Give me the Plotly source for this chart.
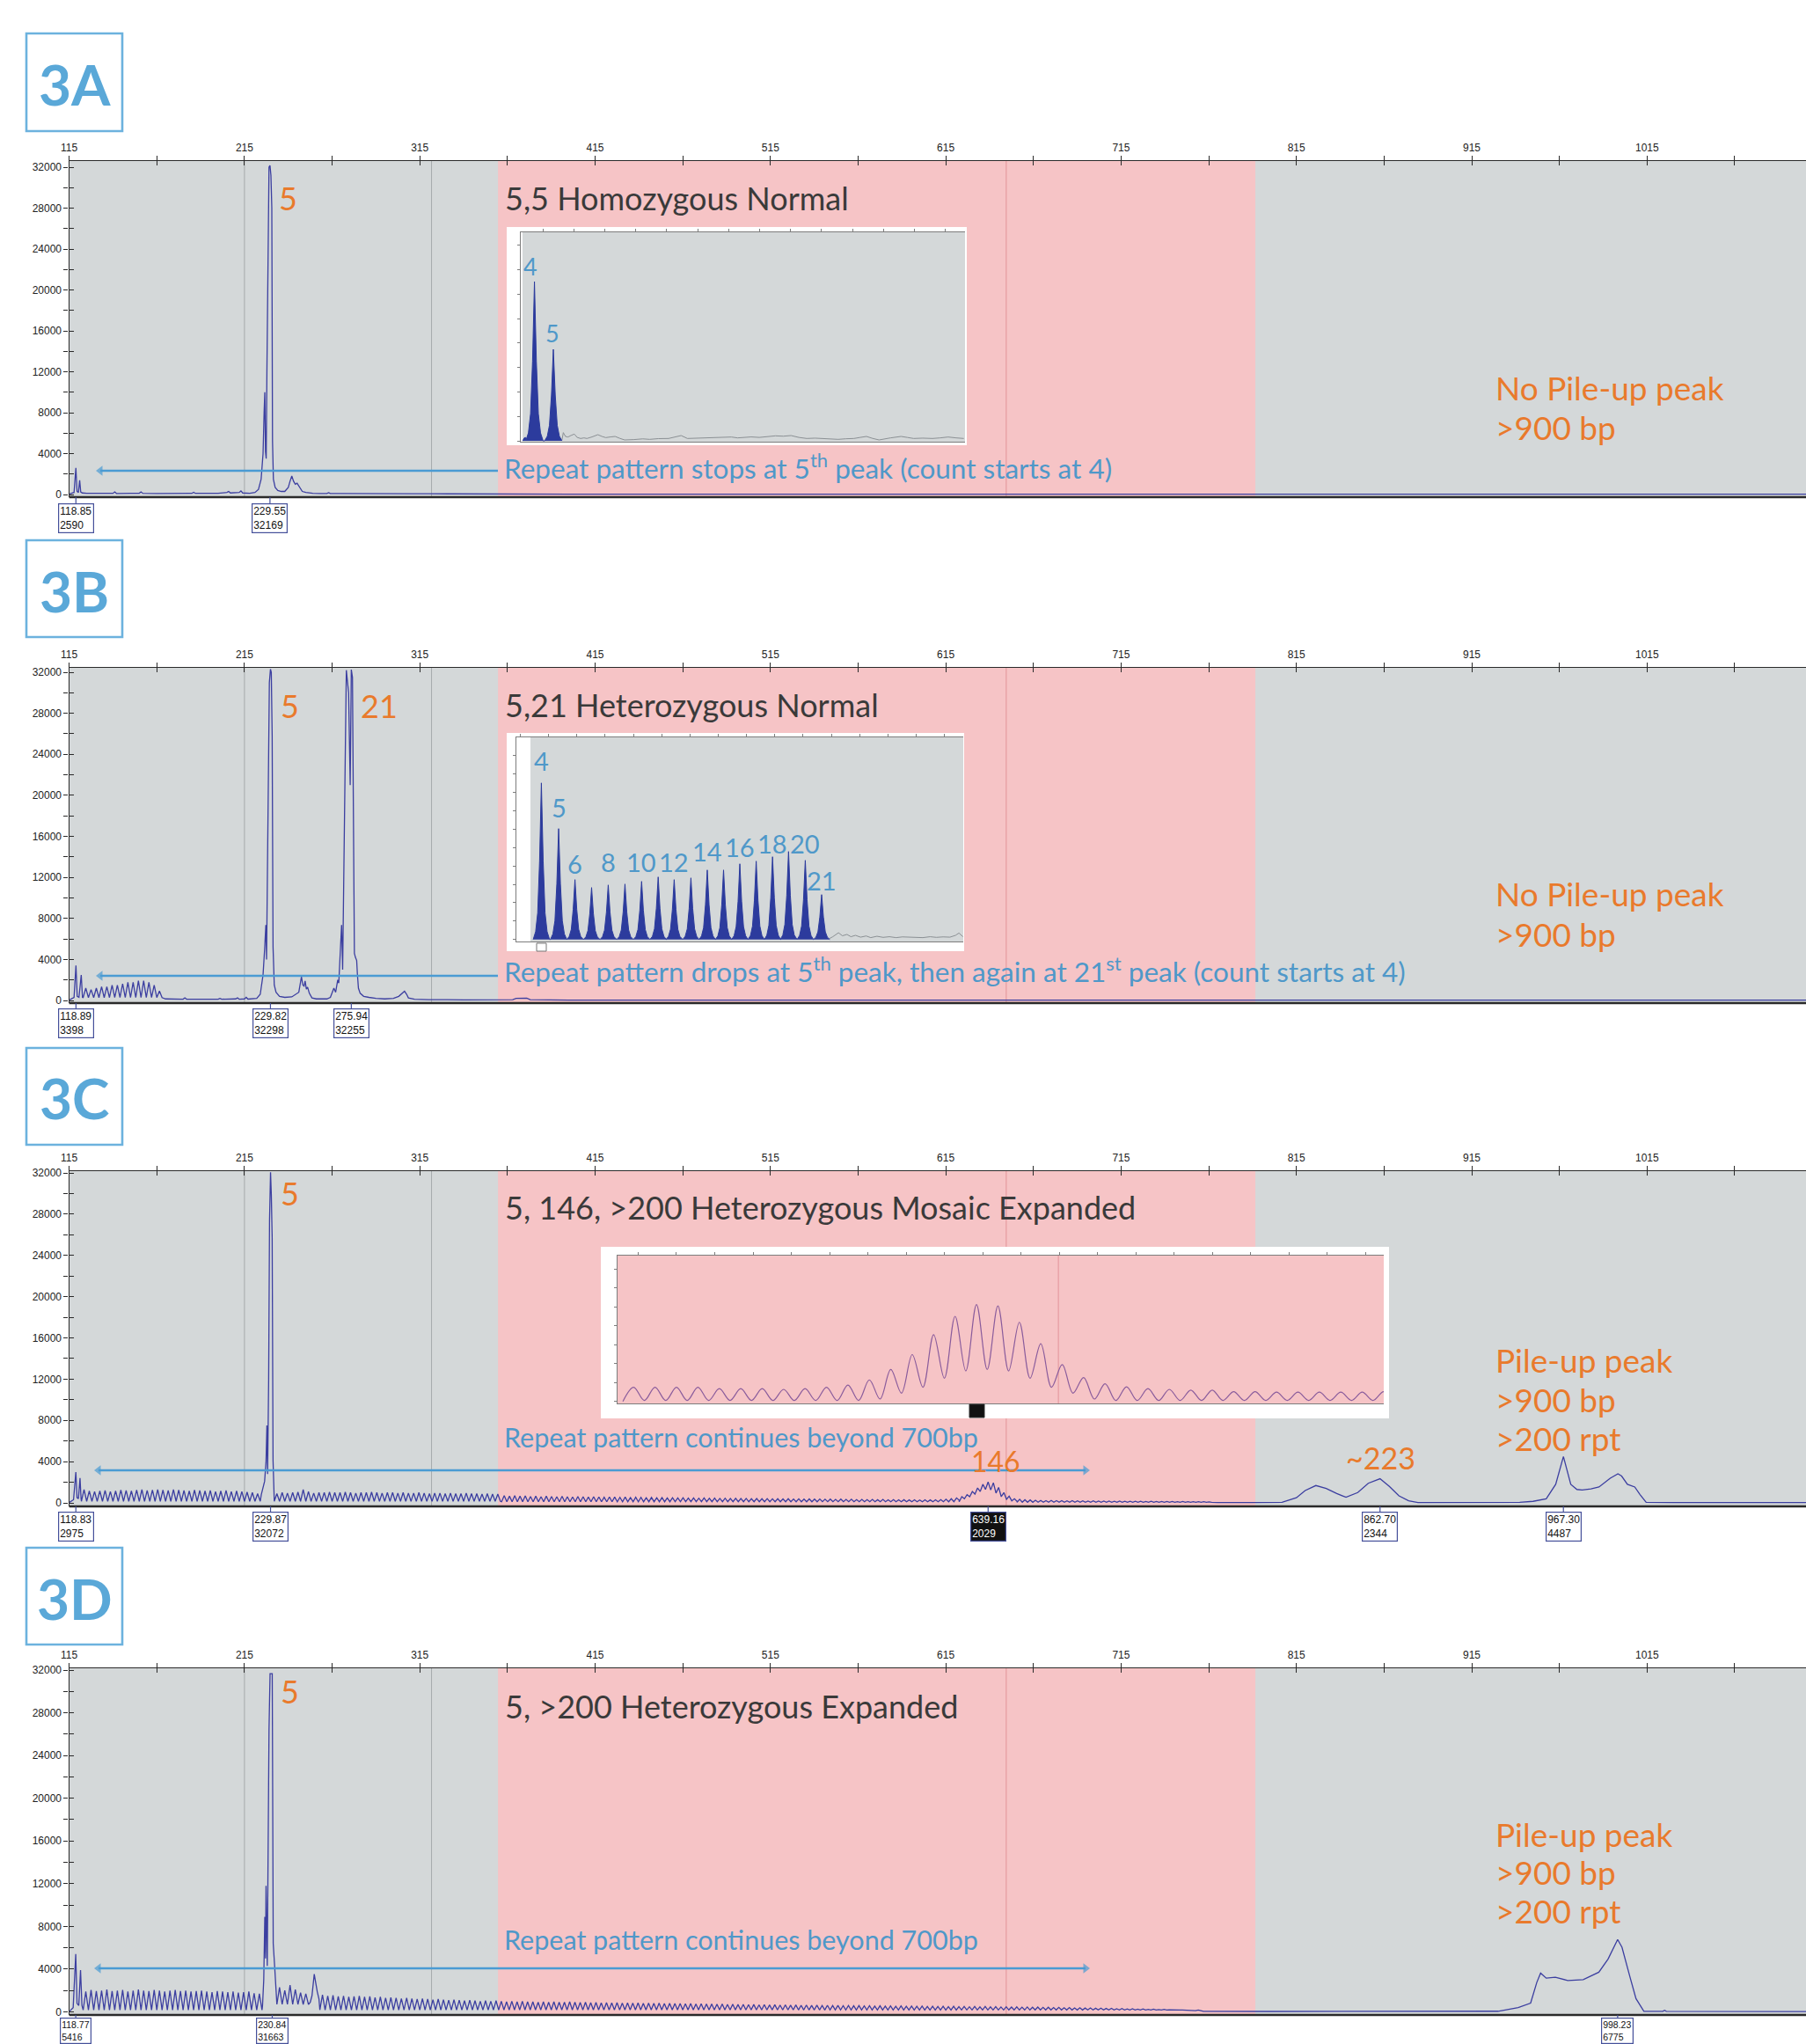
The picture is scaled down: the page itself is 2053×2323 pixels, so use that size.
import numpy as np
import plotly.graph_objects as go

W, H = 2053, 2323

# ============================ DATA ============================
X_TICK_VALUES = [115, 215, 315, 415, 515, 615, 715, 815, 915, 1015]
Y_TICK_VALUES = [0, 4000, 8000, 12000, 16000, 20000, 24000, 28000, 32000]
PINK_SPAN_BP = [359.6, 791.6]
GRAY_LINES_BP = [215.0, 321.7]
RED_LINE_BP = 649.5

# ---------- 3A ----------
A_x = [115.2, 117.8, 118.85, 119.5, 120.3, 121.0, 121.6, 122.5, 125, 130,
       140, 141, 142, 150, 155, 156, 157, 165, 175, 185,
       186, 187, 200, 205, 206, 207, 212, 213, 214, 218,
       221, 223, 224.5, 225.6, 226.2, 226.6, 227.0, 227.4, 227.8, 228.2,
       228.6, 229.0, 229.55, 230.1, 230.6, 231.0, 231.5, 232.5, 234, 236,
       238, 240, 241, 242, 243, 244, 245, 246, 247, 248,
       250, 252, 254, 258, 262, 263, 264, 270, 280, 290,
       300, 310, 320, 330, 340, 350, 360, 400, 500, 600,
       700, 800, 900, 1000, 1106]
A_y = [50, 200, 2590, 300, 200, 1400, 250, 150, 120, 100,
       110, 250, 100, 110, 120, 250, 110, 100, 120, 110,
       220, 110, 120, 200, 300, 150, 200, 350, 150, 120,
       200, 500, 1500, 4000, 8000, 10000, 4200, 3500, 12000, 20000,
       31500, 32000, 32169, 31200, 28000, 5200, 1500, 700, 400, 300,
       300, 700, 1300, 1800, 1300, 1000, 1100, 800, 600, 300,
       200, 150, 120, 100, 100, 180, 100, 90, 100, 100,
       80, 80, 70, 60, 60, 50, 40, 30, 30, 30,
       30, 30, 30, 30, 30]
A_label_bp = [118.85, 229.55]
A_label_rfu = [2590, 32169]

# ---------- 3A inset ----------
IA_peak_bp = [226.5, 229.55]
IA_peak_h = [3258, 1872]
IA_pre_x = [224.6, 224.85, 225.05]
IA_pre_y = [0, 60, 70]
IA_noise_x = [230.95, 231.16, 231.5, 231.92, 232.4, 232.94, 233.4, 233.95, 234.5, 234.97,
              235.8, 236.74, 237.4, 238.01, 238.8, 239.53, 240.3, 241.06, 242.5, 244,
              245.11, 246.5, 248.16, 249.2, 250.19, 251.2, 252.5, 254, 255.26, 256.8,
              258.3, 259.3, 260.33, 261.5, 262.8, 264.39, 265.41, 266.7, 267.94, 269.2,
              270.48, 271.8, 273.02, 274.3, 275.55, 276.8, 278.09, 279.1, 280.12, 281.1,
              282.15, 284, 285.7, 286.7, 287.73, 289.2, 290.77, 292, 293.31, 294.6, 295.84]
IA_noise_y = [20, 168, 90, 78, 110, 138, 70, 48, 60, 48,
              80, 126, 90, 66, 80, 90, 50, 18, 25, 40,
              30, 45, 48, 80, 108, 48, 55, 50, 66, 72,
              78, 60, 66, 80, 70, 90, 102, 95, 108, 70,
              48, 55, 48, 40, 30, 42, 48, 70, 90, 50,
              18, 60, 90, 70, 48, 55, 48, 60, 78, 60, 48]

# ---------- 3B ----------
B_x = [115.2, 117.8, 118.89, 119.6, 120.6, 121.9, 122.6,
       170, 180, 181, 182, 200, 201, 202, 210, 211, 212,
       215, 216, 217, 222, 224, 225.6, 226.5, 227.2, 227.6, 228.0,
       228.6, 229.2, 229.82, 230.3, 230.8, 231.3, 232, 233, 235, 238,
       242, 246, 247.5, 248.3, 249, 249.6, 250.3, 251, 252, 253.5,
       256, 262, 264, 266, 267, 268.2, 268.8, 269.6, 270.4, 271.0,
       271.8, 272.4, 273.1, 274.4, 275.3, 275.94, 276.6, 277.2, 277.7, 278.3,
       279.0, 279.4, 280, 281, 283, 286, 290, 295, 300, 303,
       305, 306.3, 307.5, 308.5, 312, 320, 340, 360, 368, 370,
       376, 378, 400, 500, 600, 700, 800, 900, 1000, 1106]
B_y = [50, 300, 3398, 400, 300, 2490, 300,
       150, 120, 250, 120, 120, 200, 120, 150, 250, 120,
       150, 300, 130, 200, 600, 2500, 5000, 7350, 4000, 12000,
       22000, 31000, 32298, 32000, 25800, 5200, 1500, 800, 400, 300,
       350, 800, 2300, 1500, 1400, 1900, 1100, 1300, 700, 250,
       150, 150, 300, 1200, 800, 2000, 1700, 5000, 7350, 3000,
       12000, 22600, 32200, 30000, 21000, 32255, 31500, 20000, 4600, 4200,
       3900, 2600, 1200, 700, 400, 300, 200, 150, 200, 400,
       700, 900, 600, 250, 120, 80, 60, 50, 80, 200,
       220, 80, 30, 30, 30, 30, 30, 30, 30, 30]
B_rep_start, B_rep_step = 124.5, 3.0
B_rep_h = [1200, 1060, 1200, 1340, 1340, 1490, 1490, 1630, 1770, 1770, 1920, 1920, 1770, 1490, 920]
B_rep_valley = 280
B_label_bp = [118.89, 229.82, 275.94]
B_label_rfu = [3398, 32298, 32255]

# ---------- 3B inset ----------
IB_peak_bp = [226.77, 229.82, 232.71, 235.65, 238.59, 241.55, 244.49, 247.42, 250.25,
              253.21, 256.10, 258.98, 261.86, 264.75, 267.64, 270.47, 273.43, 276.32]
IB_peak_h = [17030, 12060, 6510, 5650, 5930, 6030, 6320, 6800, 6510,
             6700, 7560, 7560, 8230, 8520, 9000, 9570, 8610, 4880]
IB_label_idx = [0, 1, 2, 4, 6, 8, 10, 12, 14, 16, 17]
IB_label_txt = ["4", "5", "6", "8", "10", "12", "14", "16", "18", "20", "21"]
IB_noise_x = [277.7, 278.3, 279.3, 280.0, 280.8, 281.5, 282.3, 283.2, 284.2, 285.0, 286.1, 287.2,
              288.3, 289.5, 290.6, 291.8, 293.0, 294.2, 295.5, 296.6, 297.8, 299.0, 300.0, 300.6, 301.3]
IB_noise_y = [100, 300, 730, 400, 550, 300, 450, 250, 380, 200, 350, 230,
              300, 200, 280, 230, 250, 200, 300, 230, 280, 250, 450, 700, 300]

# ---------- 3C ----------
C_pre_x = [115.2, 117.5, 118.83, 119.5, 120.3, 121.2, 121.8]
C_pre_y = [50, 300, 2975, 500, 400, 2400, 400]
C_rep1_start = 123.5
C_rep1_h = [1300, 1150, 1100, 1150, 1200, 1100, 1150, 1250, 1200, 1150,
            1250, 1300, 1200, 1250, 1300, 1250, 1200, 1300, 1250, 1200,
            1150, 1250, 1200, 1150, 1200, 1100, 1150, 1200, 1100, 1150,
            1100, 1050, 1000, 900]
C_main_x = [224.6, 225.5, 226.5, 227.3, 227.8, 228.2, 228.8, 229.3, 229.87, 230.3, 230.8, 231.3, 231.8]
C_main_y = [800, 1500, 2100, 4000, 7500, 2800, 12000, 27400, 32072, 30000, 25700, 4100, 1570]
C_rep2_start = 233.5
C_rep2_h = [900, 1000, 950, 1000, 1050, 1300, 1100, 950, 1000, 1000,
            1050, 1000, 1000, 1050, 1000, 950, 1000, 1000, 1050, 1000,
            950, 1000, 1000, 950, 1000, 950, 950, 1000, 950, 900,
            950, 950, 900, 950, 900, 900, 950, 900, 900, 850,
            900, 850, 850]
C_rep3_start = 363.16
C_rep3_h = [700, 650, 700, 650, 680, 620, 650, 600, 650, 620,
            600, 640, 600, 580, 620, 600, 560, 600, 580, 550,
            580, 560, 540, 560, 520, 550, 540, 500, 530, 500,
            520, 480, 500, 470, 490, 460, 480, 450, 470, 440,
            460, 430, 450, 420, 440, 420, 430, 400, 420, 400,
            410, 390, 400, 380, 400, 370, 390, 360, 380, 360,
            370, 350, 360, 340, 360, 330, 350, 320, 340, 320,
            330, 310, 330, 300, 320, 300, 310, 290, 300, 280,
            300, 290, 300, 320, 350, 400, 480]
C_clu_start = 624.16
C_clu_h = [600, 800, 1100, 1450, 1800, 2029, 1950, 1500, 1000, 650, 400]
C_clu_valley = [250, 400, 600, 850, 1100, 1300, 1250, 950, 600, 350, 200, 150]
C_rep4_start = 657.16
C_rep4_h = [350, 300, 280, 250, 240, 220, 230, 210, 220, 200,
            210, 190, 200, 180, 190, 180, 170, 180, 160, 170,
            160, 150, 160, 150, 140, 150, 140, 130, 140, 130,
            120, 130, 120, 110, 120, 110, 100]
C_tail_x = [770, 790, 806.8, 815, 820, 826.1, 832, 838, 843.3, 850,
            856, 862.7, 868, 873.5, 879, 884.3, 900, 920, 942.4, 950,
            957.5, 962.9, 967.3, 971.5, 975, 978, 983, 987.6, 991, 994,
            998.4, 1000.5, 1003.8, 1006, 1008, 1011, 1014.5, 1030, 1106]
C_tail_y = [40, 40, 60, 500, 1200, 1680, 1400, 900, 540, 1000,
            1900, 2344, 1600, 680, 200, 40, 30, 40, 50, 150,
            400, 1800, 4487, 1800, 1300, 1250, 1350, 1536, 2000, 2390,
            2816, 2600, 1800, 1650, 1536, 800, 50, 30, 30]
C_rep_step = 3.0
C_rep_valley = 150
C_rep4_valley = 60
C_label_bp = [118.83, 229.87, 639.16, 862.70, 967.30]
C_label_rfu = [2975, 32072, 2029, 2344, 4487]

# ---------- 3C inset ----------
IC_start, IC_step = 594.4, 2.8
IC_peak_h = [300, 300, 300, 300, 270, 270, 270, 255, 270, 300,
             345, 455, 675, 990, 1410, 1800, 2050, 2020, 1675, 1220,
             780, 505, 375, 310, 270, 255, 240, 240, 205, 205,
             195, 195, 195, 195, 195, 205]
IC_valley = [0, 20, 20, 20, 20, 20, 20, 20, 20, 20, 20, 20,
             50, 175, 300, 490, 645, 675, 645, 490, 300, 175, 50,
             20, 20, 20, 20, 20, 20, 20, 20, 20, 20, 20, 20, 20, 20]

# ---------- 3D ----------
D_pre_x = [115.2, 117.3, 118.77, 119.5, 120.5, 121.5, 122.3]
D_pre_y = [50, 400, 5416, 800, 600, 3900, 600]
D_rep1_start = 124.5
D_rep1_h = [1900, 2050, 1950, 2000, 2100, 1950, 2000, 2050, 1900, 2000,
            2100, 2000, 1950, 2050, 2000, 1900, 2000, 2050, 1950, 2000,
            1900, 1950, 2000, 1900, 1850, 1950, 1900, 1850, 1900, 1800,
            1850, 1900, 1750, 1700]
D_main_x = [225.3, 226.0, 226.6, 227.0, 227.3, 228.0, 229.0, 229.6, 230.84, 231.4, 232.2, 232.9]
D_main_y = [600, 3000, 8900, 5000, 11800, 4300, 26400, 31663, 31663, 6400, 4300, 2100]
D_rep2_start = 235.0
D_rep2_h = [2300, 2000, 2500, 2100, 1800, 1700]
D_rep2_valley = 700
D_bump_x = [252.5, 253.5, 254.8, 255.6, 256.5, 257.5]
D_bump_y = [900, 1500, 3530, 2600, 1900, 1200]
D_rep3_start = 259.5
D_rep3_h = [1600, 1500, 1550, 1450, 1500, 1400, 1450, 1500, 1400, 1450,
            1350, 1400, 1300, 1350, 1300, 1250, 1300, 1250, 1200, 1250,
            1200, 1150, 1200, 1150, 1100, 1150, 1100, 1050, 1100, 1050,
            1000, 1050, 1000, 1050, 1000, 950, 1000, 950, 1000, 950,
            950, 900, 950, 900, 950, 900, 900, 950, 900, 880,
            900, 860, 880, 850, 870, 840, 860, 830, 850, 820,
            840, 810, 830, 800, 820, 790, 800, 780, 790, 760,
            780, 750, 760, 740, 750, 720, 740, 700, 720, 690,
            700, 680, 690, 660, 680, 650, 670, 640, 660, 630,
            650, 620, 640, 610, 630, 600, 620, 590, 610, 580,
            600, 570, 590, 560, 580, 550, 570, 540, 560, 530,
            560, 530, 550, 520, 540, 510, 530, 500, 520, 490,
            520, 490, 510, 480, 500, 470, 500, 470, 490, 460,
            480, 450, 470, 440, 460, 430, 450, 420, 430, 400,
            420, 390, 400, 370, 390, 360, 370, 340, 350, 320,
            330, 300, 310, 280, 290, 260, 270, 240, 250, 220,
            230, 200, 200, 170, 170, 140, 120]
D_tail_x = [762, 800, 850, 890, 893.7, 895, 930, 941.5, 948.6, 952.1,
            954.3, 957.5, 962.7, 969.8, 978.6, 987.5, 992.8, 998.23, 1000.7, 1005.2,
            1008.7, 1013.2, 1024, 1025, 1026, 1106]
D_tail_y = [50, 40, 40, 40, 100, 40, 60, 410, 820, 2750,
            3630, 3160, 3240, 2940, 3020, 3710, 4950, 6775, 6050, 3300,
            1240, 50, 50, 150, 50, 30]
D_rep_step = 3.0
D_rep_valley = 180
D_label_bp = [118.77, 230.84, 998.23]
D_label_rfu = [5416, 31663, 6775]

# ============================ STYLE ============================
GRAY_BG = '#d4d8d9'
PINK_BG = '#f6c4c6'
VGRAY = '#a5aaac'
VRED = '#e2939a'
TRACE = '#3b3ea0'
INSET_FILL = '#2c3b9d'
INSET_NOISE = '#8b9094'
INSET_C_LINE = '#8a5c9c'
ORANGE = '#e97a2c'
TITLE_C = '#3a3a3a'
BLUE_TXT = '#4f98c9'
BLUE_ARROW = '#4a9bd3'
BOX_BLUE = '#6cb2de'
BOX_TXT = '#5aa8d8'
LABEL_BORDER = '#45509a'
AX = '#2a2a2a'
TXT_FONT = 'Lato, Open Sans, sans-serif'
TICK_FONT = 'Liberation Sans, Arial, sans-serif'

PEAK_DX = [-1, -0.7, -0.45, -0.22, 0, 0.22, 0.45, 0.7, 1]
PEAK_FY = [0, 0.05, 0.17, 0.5, 1, 0.5, 0.17, 0.05, 0]

X0_PX = 78.6
PX_PER_BP = 1.993
X_RANGE = [115, 115 + (W - X0_PX) / PX_PER_BP]

PANELS = [
    dict(top=183, y32=190, y0=562, bot=565, box=(30, 38, 139, 149), name='3A',
         five=(315, 225), title=(572, 225), title_txt='5,5 Homozygous Normal',
         rep=(571, 530), rep_size=31.5,
         rep_txt='Repeat pattern stops at 5<sup>th</sup> peak (count starts at 4)',
         arrow=(111, 566, 535, False),
         pile=['No Pile-up peak', '>900 bp'], pile_y=[441, 486], lab_y=588.5, lab_font=12),
    dict(top=759, y32=764, y0=1137, bot=1140, box=(30, 614, 139, 724), name='3B',
         five=(317, 802), title=(572, 801), title_txt='5,21 Heterozygous Normal',
         rep=(571, 1102), rep_size=31.5,
         rep_txt='Repeat pattern drops at 5<sup>th</sup> peak, then again at 21<sup>st</sup> peak (count starts at 4)',
         arrow=(111, 566, 1109, False),
         pile=['No Pile-up peak', '>900 bp'], pile_y=[1016, 1061], lab_y=1163, lab_font=12),
    dict(top=1331, y32=1333, y0=1708, bot=1712, box=(30, 1191, 139, 1301), name='3C',
         five=(317, 1356), title=(572, 1372), title_txt='5, 146, >200 Heterozygous Mosaic Expanded',
         rep=(571, 1633), rep_size=30.5, rep_txt='Repeat pattern continues beyond 700bp',
         arrow=(109, 1237, 1671, True),
         pile=['Pile-up peak', '>900 bp', '>200 rpt'], pile_y=[1545, 1590, 1634], lab_y=1735, lab_font=12),
    dict(top=1896, y32=1898, y0=2286.5, bot=2290, box=(30, 1759, 139, 1869), name='3D',
         five=(317, 1922), title=(572, 1939), title_txt='5, >200 Heterozygous Expanded',
         rep=(571, 2204), rep_size=30.5, rep_txt='Repeat pattern continues beyond 700bp',
         arrow=(109, 1237, 2237, True),
         pile=['Pile-up peak', '>900 bp', '>200 rpt'], pile_y=[2084, 2127, 2171], lab_y=2307.5,
         lab_font=10.5),
]


def pxx(p):
    return p / W


def pxy(p):
    return 1 - p / H


def nm(prefix, i):
    return prefix if i == 1 else f'{prefix}{i}'


def ladder(start, step, heights, valley):
    n = len(heights)
    vals = list(valley) if isinstance(valley, (list, tuple)) else [valley] * (n + 1)
    xs, ys = [], []
    for i, h in enumerate(heights):
        p = start + i * step
        xs += [p - step / 2, p]
        ys += [vals[i], h]
    xs.append(start + (n - 1) * step + step / 2)
    ys.append(vals[n])
    return xs, ys


def assemble(*parts):
    xs, ys = [], []
    for px_, py_ in parts:
        assert len(px_) == len(py_)
        xs += list(px_)
        ys += list(py_)
    xs = np.array(xs, float)
    ys = np.array(ys, float)
    o = np.argsort(xs, kind='stable')
    return xs[o], ys[o]


def peaks(pos, hts, hw):
    xs, ys = [], []
    for p, h in zip(pos, hts):
        for dx, fy in zip(PEAK_DX, PEAK_FY):
            xs.append(p + dx * hw)
            ys.append(h * fy)
    return xs, ys


traces = [
    assemble((A_x, A_y)),
    assemble((B_x, B_y), ladder(B_rep_start, B_rep_step, B_rep_h, B_rep_valley)),
    assemble((C_pre_x, C_pre_y),
             ladder(C_rep1_start, C_rep_step, C_rep1_h, C_rep_valley),
             (C_main_x, C_main_y),
             ladder(C_rep2_start, C_rep_step, C_rep2_h, C_rep_valley),
             ladder(C_rep3_start, C_rep_step, C_rep3_h, 110),
             ladder(C_clu_start, C_rep_step, C_clu_h, C_clu_valley),
             ladder(C_rep4_start, C_rep_step, C_rep4_h, C_rep4_valley),
             (C_tail_x, C_tail_y)),
    assemble((D_pre_x, D_pre_y),
             ladder(D_rep1_start, D_rep_step, D_rep1_h, D_rep_valley),
             (D_main_x, D_main_y),
             ladder(D_rep2_start, D_rep_step, D_rep2_h, D_rep2_valley),
             (D_bump_x, D_bump_y),
             ladder(D_rep3_start, D_rep_step, D_rep3_h, D_rep_valley),
             (D_tail_x, D_tail_y)),
]
LABELS = [(A_label_bp, A_label_rfu), (B_label_bp, B_label_rfu),
          (C_label_bp, C_label_rfu), (D_label_bp, D_label_rfu)]

fig = go.Figure()
layout = dict(width=W, height=H, margin=dict(l=0, r=0, t=0, b=0),
              paper_bgcolor='white', plot_bgcolor='white', showlegend=False,
              template='none', font=dict(family=TICK_FONT, size=12, color='#222'))
shapes, annos = [], []
arrow_traces = []

# ---------------- main panels ----------------
for i, (g, (tx, ty)) in enumerate(zip(PANELS, traces), start=1):
    k = (g['y0'] - g['y32']) / 32000
    yr = [-(g['bot'] - g['y0']) / k, 32000 + (g['y32'] - g['top']) / k]
    ydom = [pxy(g['bot']), pxy(g['top'])]
    xn, yn = nm('x', i), nm('y', i)
    layout[nm('xaxis', i)] = dict(
        domain=[pxx(X0_PX), 1], range=X_RANGE, anchor=yn, side='top', automargin=False,
        showline=True, linecolor=AX, linewidth=1.4, showgrid=False, zeroline=False,
        tickmode='array', tickvals=X_TICK_VALUES, ticks='outside', ticklen=5, tickwidth=1.3,
        tickcolor=AX, tickfont=dict(size=12, family=TICK_FONT, color='#222'),
        minor=dict(ticks='outside', tick0=115, dtick=50, ticklen=5, tickwidth=1.3, tickcolor=AX))
    layout[nm('yaxis', i)] = dict(
        domain=ydom, range=yr, anchor=xn, automargin=False,
        showline=True, linecolor=AX, linewidth=1.4, showgrid=False, zeroline=False,
        tickmode='array', tickvals=Y_TICK_VALUES, tickformat='d', ticks='outside', ticklen=5,
        tickwidth=1.3, tickcolor=AX, tickfont=dict(size=12, family=TICK_FONT, color='#222'),
        minor=dict(ticks='outside', tick0=0, dtick=2000, ticklen=5, tickwidth=1.3, tickcolor=AX))
    # overlay axes give the inner half of each crossing tick
    layout[f'xaxis{4 + i}'] = dict(
        overlaying=xn, anchor=yn, side='top', range=X_RANGE, showline=False, showgrid=False,
        zeroline=False, showticklabels=False, ticks='inside', tick0=115, dtick=50,
        ticklen=5, tickwidth=1.3, tickcolor=AX, automargin=False)
    layout[f'yaxis{4 + i}'] = dict(
        overlaying=yn, anchor=xn, side='left', range=yr, showline=False, showgrid=False,
        zeroline=False, showticklabels=False, ticks='inside', tick0=0, dtick=2000,
        ticklen=5, tickwidth=1.3, tickcolor=AX, automargin=False)

    fig.add_trace(go.Scatter(x=tx, y=ty, xaxis=xn, yaxis=yn, mode='lines',
                             line=dict(color=TRACE, width=1.3), hoverinfo='skip'))

    xd = f'{xn} domain'
    yd = f'{yn} domain'
    shapes += [
        dict(type='rect', xref=xn, yref=yd, x0=X_RANGE[0], x1=X_RANGE[1], y0=0, y1=1,
             fillcolor=GRAY_BG, line=dict(width=0), layer='below'),
        dict(type='rect', xref=xn, yref=yd, x0=PINK_SPAN_BP[0], x1=PINK_SPAN_BP[1], y0=0, y1=1,
             fillcolor=PINK_BG, line=dict(width=0), layer='below'),
    ]
    for v in GRAY_LINES_BP:
        shapes.append(dict(type='line', xref=xn, yref=yd, x0=v, x1=v, y0=0, y1=1,
                           line=dict(color=VGRAY, width=1), layer='below'))
    shapes.append(dict(type='line', xref=xn, yref=yd, x0=RED_LINE_BP, x1=RED_LINE_BP, y0=0, y1=1,
                       line=dict(color=VRED, width=1), layer='below'))
    shapes.append(dict(type='line', xref=xd, yref=yd, x0=0, x1=1, y0=0, y1=0,
                       line=dict(color=AX, width=2.6), layer='above'))

    # panel id box
    bx0, by0, bx1, by1 = g['box']
    shapes.append(dict(type='rect', xref='paper', yref='paper', x0=pxx(bx0), x1=pxx(bx1),
                       y0=pxy(by1), y1=pxy(by0), line=dict(color=BOX_BLUE, width=2.6),
                       fillcolor='rgba(0,0,0,0)'))
    annos.append(dict(text=f"<b>{g['name']}</b>", x=pxx((bx0 + bx1) / 2), y=pxy((by0 + by1) / 2 + 2),
                      xref='paper', yref='paper', showarrow=False, xanchor='center', yanchor='middle',
                      font=dict(family=TXT_FONT, size=64, color=BOX_TXT)))

    # texts
    annos.append(dict(text='5', x=pxx(g['five'][0]), y=pxy(g['five'][1]), xref='paper', yref='paper',
                      showarrow=False, xanchor='left', yanchor='middle',
                      font=dict(family=TXT_FONT, size=36, color=ORANGE)))
    annos.append(dict(text=g['title_txt'], x=pxx(g['title'][0]), y=pxy(g['title'][1]),
                      xref='paper', yref='paper', showarrow=False, xanchor='left', yanchor='middle',
                      font=dict(family=TXT_FONT, size=36, color=TITLE_C)))
    annos.append(dict(text=g['rep_txt'], x=pxx(g['rep'][0]), y=pxy(g['rep'][1]),
                      xref='paper', yref='paper', showarrow=False, xanchor='left', yanchor='middle',
                      font=dict(family=TXT_FONT, size=g['rep_size'], color=BLUE_TXT)))
    for t, yy in zip(g['pile'], g['pile_y']):
        annos.append(dict(text=t, x=pxx(1698), y=pxy(yy), xref='paper', yref='paper',
                          showarrow=False, xanchor='left', yanchor='middle',
                          font=dict(family=TXT_FONT, size=37, color=ORANGE)))

    # arrow (line with triangular heads) drawn in the panel's own axes
    ah, at, ay_, both = g['arrow']
    bp_h = X_RANGE[0] + (ah + 3 - X0_PX) / PX_PER_BP
    bp_t = X_RANGE[0] + (at - (3 if both else 0) - X0_PX) / PX_PER_BP
    rf = (g['y0'] - ay_) / k
    arrow_traces.append(go.Scatter(
        x=[bp_h, bp_t], y=[rf, rf], xaxis=xn, yaxis=yn, mode='lines+markers',
        line=dict(color=BLUE_ARROW, width=2.4),
        marker=dict(symbol=['triangle-left', 'triangle-right'], size=[10, 10 if both else 0],
                    color=BLUE_ARROW, line=dict(width=0)),
        hoverinfo='skip'))

    # peak label boxes
    half = g['lab_font'] * 1.2 + 1.5
    for bp, rfu in zip(*LABELS[i - 1]):
        black = (bp == 639.16)
        shapes.append(dict(type='line', xref=xn, yref='paper', x0=bp, x1=bp,
                           y0=pxy(g['bot']), y1=pxy(g['lab_y'] - half),
                           line=dict(color=LABEL_BORDER, width=1.2)))
        annos.append(dict(text=f'{bp:.2f}<br>{rfu}', x=bp, y=pxy(g['lab_y']), xref=xn, yref='paper',
                          showarrow=False, xanchor='center', yanchor='middle', align='left',
                          bgcolor='#111' if black else 'white', bordercolor=LABEL_BORDER,
                          borderwidth=1.2, borderpad=1,
                          font=dict(family=TICK_FONT, size=g['lab_font'],
                                    color='white' if black else '#111')))

for t in arrow_traces:
    fig.add_trace(t)

# dummy traces so that overlay tick axes are drawn
for i in range(1, 5):
    fig.add_trace(go.Scatter(x=[], y=[], xaxis=f'x{4 + i}', yaxis=nm('y', i), hoverinfo='skip'))
    fig.add_trace(go.Scatter(x=[], y=[], xaxis=nm('x', i), yaxis=f'y{4 + i}', hoverinfo='skip'))

# ---------------- insets ----------------
INSETS = [
    dict(white=(576, 258, 1099, 506), plot=(592, 264, 1097, 502), xr=[224.29, 296.03], yr=[-18, 4266],
         tick0=227.85, dtick=5, ydtick=500, bg=GRAY_BG, bg_from=224.57),
    dict(white=(576, 833, 1096, 1081), plot=(587, 838, 1095, 1070), xr=[222.35, 301.36], yr=[-220, 21990],
         tick0=228.05, dtick=5, ydtick=2000, bg=GRAY_BG, bg_from=224.84),
    dict(white=(683, 1417, 1579, 1612), plot=(702, 1427, 1573, 1595), xr=[592.30, 692.41], yr=[-43, 3085],
         tick0=600, dtick=5, ydtick=400, bg=PINK_BG, bg_from=592.30),
]
for j, ins in enumerate(INSETS):
    wn = 9 + j
    wx0, wy0, wx1, wy1 = ins['white']
    layout[f'xaxis{wn}'] = dict(domain=[pxx(wx0), pxx(wx1)], range=[0, 1], anchor=f'y{wn}',
                                showline=False, showgrid=False, zeroline=False, ticks='',
                                showticklabels=False)
    layout[f'yaxis{wn}'] = dict(domain=[pxy(wy1), pxy(wy0)], range=[0, 1], anchor=f'x{wn}',
                                showline=False, showgrid=False, zeroline=False, ticks='',
                                showticklabels=False)
    fig.add_trace(go.Scatter(x=[], y=[], xaxis=f'x{wn}', yaxis=f'y{wn}', hoverinfo='skip'))

for j, ins in enumerate(INSETS):
    pn = 12 + j
    px0, py0, px1, py1 = ins['plot']
    layout[f'xaxis{pn}'] = dict(domain=[pxx(px0), pxx(px1)], range=ins['xr'], anchor=f'y{pn}', side='top',
                                showline=True, linecolor='#7d7d7d', linewidth=1, mirror=True,
                                showgrid=False, zeroline=False, showticklabels=False, ticks='outside',
                                tick0=ins['tick0'], dtick=ins['dtick'], ticklen=3, tickwidth=1,
                                tickcolor='#7d7d7d', automargin=False)
    layout[f'yaxis{pn}'] = dict(domain=[pxy(py1), pxy(py0)], range=ins['yr'], anchor=f'x{pn}',
                                showline=True, linecolor='#7d7d7d', linewidth=1, showgrid=False,
                                zeroline=False, showticklabels=False, ticks='outside', tick0=0,
                                dtick=ins['ydtick'], ticklen=3, tickwidth=1, tickcolor='#7d7d7d',
                                automargin=False)
    shapes.append(dict(type='rect', xref=f'x{pn}', yref=f'y{pn}', x0=ins['bg_from'],
                       x1=ins['xr'][1], y0=ins['yr'][0], y1=ins['yr'][1], fillcolor=ins['bg'],
                       line=dict(width=0), layer='below'))

# inset A
ia_x, ia_y = assemble((IA_pre_x, IA_pre_y), peaks(IA_peak_bp, IA_peak_h, 1.4))
fig.add_trace(go.Scatter(x=IA_noise_x, y=IA_noise_y, xaxis='x12', yaxis='y12', mode='lines',
                         line=dict(color=INSET_NOISE, width=1), hoverinfo='skip'))
fig.add_trace(go.Scatter(x=ia_x, y=ia_y, xaxis='x12', yaxis='y12', mode='lines', fill='tozeroy',
                         fillcolor=INSET_FILL, line=dict(color=INSET_FILL, width=1), hoverinfo='skip'))
for t, (lx, ly) in zip(['4', '5'], [(603, 302), (628, 379)]):
    annos.append(dict(text=t, x=pxx(lx), y=pxy(ly), xref='paper', yref='paper', showarrow=False,
                      xanchor='center', yanchor='middle', font=dict(family=TXT_FONT, size=27, color=BLUE_TXT)))

# inset B
fig.add_trace(go.Scatter(x=IB_noise_x, y=IB_noise_y, xaxis='x13', yaxis='y13', mode='lines',
                         line=dict(color=INSET_NOISE, width=1), hoverinfo='skip'))
ib_x, ib_y = peaks(IB_peak_bp, IB_peak_h, 1.45)
fig.add_trace(go.Scatter(x=ib_x, y=ib_y, xaxis='x13', yaxis='y13', mode='lines', fill='tozeroy',
                         fillcolor=INSET_FILL, line=dict(color=INSET_FILL, width=1), hoverinfo='skip'))
IB_label_ypx = [864, 917, 981, 979, 979, 979, 967, 962, 958, 958, 1000]
for idx, t, ly in zip(IB_label_idx, IB_label_txt, IB_label_ypx):
    annos.append(dict(text=t, x=IB_peak_bp[idx], y=pxy(ly), xref='x13', yref='paper', showarrow=False,
                      xanchor='center', yanchor='middle', font=dict(family=TXT_FONT, size=29, color=BLUE_TXT)))
shapes.append(dict(type='rect', xref='paper', yref='paper', x0=pxx(610), x1=pxx(621), y0=pxy(1081),
                   y1=pxy(1072), line=dict(color='#777', width=1), fillcolor='white'))

# inset C
ic_x, ic_y = [], []
for i, h in enumerate(IC_peak_h):
    p = IC_start + i * IC_step
    ic_x += [p - IC_step / 2, p]
    ic_y += [IC_valley[i], h]
ic_x.append(IC_start + (len(IC_peak_h) - 1) * IC_step + IC_step / 2)
ic_y.append(IC_valley[len(IC_peak_h)])
shapes.append(dict(type='line', xref='x14', yref='y14', x0=649.9, x1=649.9, y0=INSETS[2]['yr'][0],
                   y1=INSETS[2]['yr'][1], line=dict(color=VRED, width=1), layer='below'))
fig.add_trace(go.Scatter(x=ic_x, y=ic_y, xaxis='x14', yaxis='y14', mode='lines',
                         line=dict(color=INSET_C_LINE, width=1.2, shape='spline', smoothing=1.0),
                         hoverinfo='skip'))
shapes.append(dict(type='rect', xref='paper', yref='paper', x0=pxx(1102), x1=pxx(1119), y0=pxy(1611),
                   y1=pxy(1596), line=dict(color='#333', width=1), fillcolor='#111'))

# extra orange labels in 3B / 3C
annos.append(dict(text='21', x=pxx(408), y=pxy(802), xref='paper', yref='paper', showarrow=False,
                  xanchor='left', yanchor='middle', font=dict(family=TXT_FONT, size=36, color=ORANGE)))
annos.append(dict(text='146', x=pxx(1102), y=pxy(1660), xref='paper', yref='paper', showarrow=False,
                  xanchor='left', yanchor='middle', font=dict(family=TXT_FONT, size=32, color=ORANGE)))
annos.append(dict(text='~223', x=pxx(1528), y=pxy(1656), xref='paper', yref='paper', showarrow=False,
                  xanchor='left', yanchor='middle', font=dict(family=TXT_FONT, size=34, color=ORANGE)))

layout['shapes'] = shapes
layout['annotations'] = annos
fig.update_layout(**layout)
fig.write_html('out.html', config={'displayModeBar': False},
               post_script="document.body.style.margin='0';document.body.style.overflow='hidden';")
